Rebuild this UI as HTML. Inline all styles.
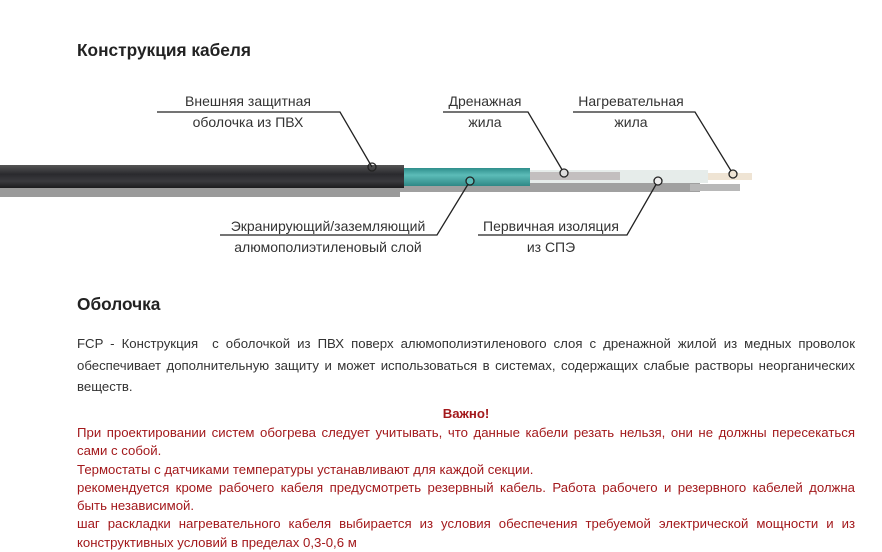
<!DOCTYPE html>
<html><head><meta charset="utf-8"><style>
body{margin:0;width:882px;height:551px;background:#fff;overflow:hidden;font-family:"Liberation Sans",sans-serif;position:relative}
.h{position:absolute;left:77px;font-weight:bold;font-size:17.3px;color:#222}
.p{position:absolute;left:77px;width:778px;font-size:13.2px;color:#333;text-align:justify;line-height:21.5px}
.r{position:absolute;left:77px;width:778px;font-size:13.2px;color:#a3191c;line-height:18.3px;text-align:justify}
.lbl{position:absolute;font-size:14px;color:#333;text-align:center;line-height:21px;white-space:nowrap}
</style></head><body>
<div class="h" style="top:40px">Конструкция кабеля</div>
<div class="h" style="top:294px">Оболочка</div>
<svg width="882" height="280" style="position:absolute;left:0;top:0">
<defs>
<linearGradient id="bk" x1="0" y1="0" x2="0" y2="1"><stop offset="0" stop-color="#555"/><stop offset=".4" stop-color="#2a2a2e"/><stop offset=".7" stop-color="#3a3a3e"/><stop offset="1" stop-color="#1c1c1e"/></linearGradient>
<linearGradient id="tl" x1="0" y1="0" x2="0" y2="1"><stop offset="0" stop-color="#2f8f8c"/><stop offset=".4" stop-color="#5cbcb8"/><stop offset="1" stop-color="#2f8886"/></linearGradient>
</defs>
<rect x="0" y="186" width="400" height="11" fill="#9a9a9a"/>
<rect x="400" y="183" width="300" height="9" fill="#a0a0a0"/>
<rect x="690" y="184" width="50" height="7" fill="#b8b8b8"/>
<rect x="0" y="165" width="404" height="23" fill="url(#bk)"/>
<rect x="404" y="168" width="126" height="18" fill="url(#tl)"/>
<rect x="530" y="170" width="178" height="13" fill="#e6ecea"/>
<rect x="530" y="172" width="90" height="8" fill="#c3bfbf"/>
<rect x="708" y="173" width="44" height="7" fill="#efe4d4"/>
<g fill="none" stroke="#222" stroke-width="1.3">
<polyline points="157,112 340,112 372,167"/>
<polyline points="443,112 528,112 564,173"/>
<polyline points="573,112 695,112 733,174"/>
<polyline points="220,235 437,235 470,181"/>
<polyline points="478,235 627,235 658,181"/>
<circle cx="372" cy="167" r="4"/><circle cx="564" cy="173" r="4" fill="#ddd"/>
<circle cx="733" cy="174" r="4" fill="#efe4d4"/><circle cx="470" cy="181" r="4" fill="#5cbcb8"/>
<circle cx="658" cy="181" r="4" fill="#eee"/>
</g></svg>
<div class="lbl" style="left:168px;width:160px;top:91px">Внешняя защитная<br>оболочка из ПВХ</div>
<div class="lbl" style="left:435px;width:100px;top:91px">Дренажная<br>жила</div>
<div class="lbl" style="left:566px;width:130px;top:91px">Нагревательная<br>жила</div>
<div class="lbl" style="left:222px;width:212px;top:216px">Экранирующий/заземляющий<br>алюмополиэтиленовый слой</div>
<div class="lbl" style="left:476px;width:150px;top:216px">Первичная изоляция<br>из СПЭ</div>
<div class="p" style="top:333px">FCP - Конструкция &nbsp;с оболочкой из ПВХ поверх алюмополиэтиленового слоя с дренажной жилой из медных проволок обеспечивает дополнительную защиту и может использоваться в системах, содержащих слабые растворы неорганических веществ.</div>
<div class="r" style="top:405px;text-align:center;font-weight:bold">Важно!</div>
<div class="r" style="top:424px">При проектировании систем обогрева следует учитывать, что данные кабели резать нельзя, они не должны пересекаться сами с собой.<br>Термостаты с датчиками температуры устанавливают для каждой секции.<br>рекомендуется кроме рабочего кабеля предусмотреть резервный кабель. Работа рабочего и резервного кабелей должна быть независимой.<br>шаг раскладки нагревательного кабеля выбирается из условия обеспечения требуемой электрической мощности и из конструктивных условий в пределах 0,3-0,6 м</div>
</body></html>
